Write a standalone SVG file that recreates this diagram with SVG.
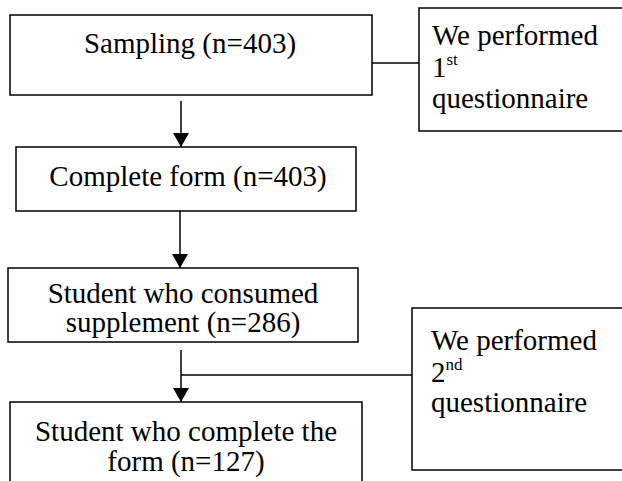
<svg xmlns="http://www.w3.org/2000/svg" width="622" height="481" viewBox="0 0 622 481">
<defs>
<style>
.box{fill:#fff;stroke:#000;stroke-width:1.5}
.t{font-family:"Liberation Serif","Times New Roman",serif;font-size:29px;fill:#000}
.c{text-anchor:middle}
.sup{font-size:17px}
.ln{stroke:#000;stroke-width:1.5;fill:none}
</style>
<marker id="ah2" viewBox="0 0 14 16" refX="14" refY="8" markerWidth="14" markerHeight="16" markerUnits="userSpaceOnUse" orient="auto">
<path d="M0,0 L14,8 L0,16 Z" fill="#000"/>
</marker>
</defs>
<rect width="622" height="481" fill="#fff"/>
<g id="connectors">
<line class="ln" x1="372" y1="63" x2="419" y2="63"/>
<line class="ln" x1="181" y1="101" x2="181" y2="147" marker-end="url(#ah2)"/>
<line class="ln" x1="180" y1="211" x2="180" y2="268" marker-end="url(#ah2)"/>
<line class="ln" x1="181" y1="350" x2="181" y2="402" marker-end="url(#ah2)"/>
<line class="ln" x1="181" y1="375" x2="412" y2="375"/>
</g>
<g id="sampling">
<rect class="box" x="10" y="15" width="362" height="80"/>
<text class="t c" x="190" y="53">Sampling (n=403)</text>
</g>
<g id="q1">
<rect class="box" x="419" y="8" width="220" height="123"/>
<text class="t" x="432" y="45">We performed</text>
<text class="t" x="432" y="77">1<tspan class="sup" dy="-12">st</tspan></text>
<text class="t" x="432" y="108">questionnaire</text>
</g>
<g id="complete">
<rect class="box" x="16" y="147" width="340" height="64"/>
<text class="t c" x="188" y="186">Complete form (n=403)</text>
</g>
<g id="consumed">
<rect class="box" x="8" y="268" width="350" height="74"/>
<text class="t c" x="183" y="303">Student who consumed</text>
<text class="t c" x="183" y="332">supplement (n=286)</text>
</g>
<g id="q2">
<rect class="box" x="412" y="308" width="226" height="162"/>
<text class="t" x="431" y="350">We performed</text>
<text class="t" x="431" y="382">2<tspan class="sup" dy="-12">nd</tspan></text>
<text class="t" x="431" y="412">questionnaire</text>
</g>
<g id="completed">
<rect class="box" x="10" y="402" width="352" height="90"/>
<text class="t c" x="186" y="441">Student who complete the</text>
<text class="t c" x="186" y="471">form (n=127)</text>
</g>
</svg>
